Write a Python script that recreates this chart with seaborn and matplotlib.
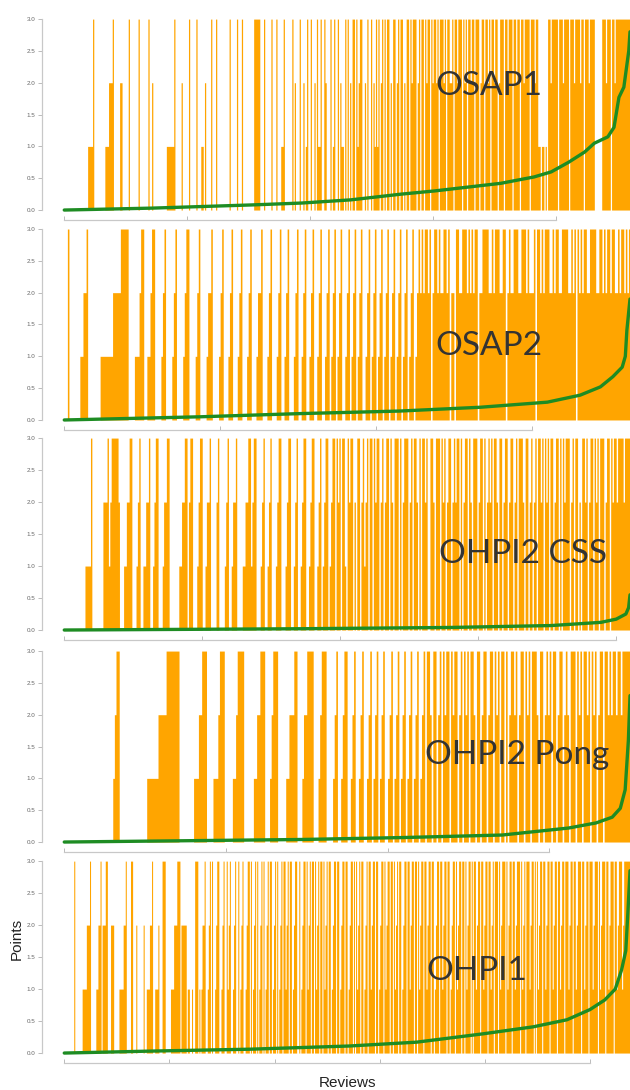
import numpy as np
import matplotlib
matplotlib.use("Agg")
import matplotlib.pyplot as plt
import seaborn as sns
from matplotlib.ticker import MultipleLocator

# points per review (0-3), one digit per review, in blocks of ten
osap1_points = """
0000000000 0000000001 1113000000 0001112223 0000022000 0030000000 3000000030 0200000000
0001111113 0000020000 0300000300 0110200003 0003000000 0000300000 3000300000 0000333330
0030000030 0030001130 0000030200 0300201300 3002031130 0320003013 0030211030 3020330312
3300203003 0213130230 3033020330 2303302033 0323330230 3303233032 3323033323 0332230332
3330323033 2330333023 3033230332 3302333033 2333033233 0332333303 3323311011 0103323333
3033323333 0333233332 3303332333 3000000333 2333033233 3333333333
"""
osap2_points = """
0030000000 1122300000 0001111111 1222223333 3000011123 3001123300 0012300001 2300001233
0000123000 0122300001 2300012300 0123000123 0001223000 1230001230 0123000123 0012300123
0012300123 0123012300 1230123012 3001230123 0123012301 2301230123 0123012323 2332302332
3223323022 0332233323 2323302233 3322323332 2330232233 3223332322 2303323233 3223233223
3332232303 2323322333 3223323233 2332232332 323
"""
ohpi2_css_points = """
0000000000 0000011113 0000000022 2312333332 0001122330 0012300112 2300123300 0122330000
0001122330 2330001233 0012230000 2300001230 0122300001 1223312330 0012300123 0001233000
1233001230 0123300123 3001230123 3012330323 0331032330 2033023123 0330323302 3023303203
3303023330 2303320303 3230033203 3303230233 0232330302 3303203330 2330302323 0332033023
3023302303 3320330230 2303323032 3033023303 0323330230 3302033230 2330323033 3023303233
2333323333
"""
ohpi2_pong_points = """
0000000000 0000000000 0000000000 1233000000 0000000000 0111111122 2223333333 3000000000
1112233300 0011123330 0000112333 3000000112 2333000123 3300000112 2233000122 3333000123
3300001230 0123300123 0012300123 0123012300 1230123012 3012301230 1230332033 0230323303
2330230323 0332033023 3023303230 3303023323 0233032303 3320330232 3033023302 3203330323
0332303230 2330332323 3233233333
"""
ohpi1_points = """
0000000003 0000000111 1222300000 1122302223 3000222000 0011112230 0003300020 0000020011
1223001112 0003330000 0111222333 0222220110 0100333010 1223001230 3001233001 2300312300
1230030123 0012330301 2303012303 0123033012 3030123033 1230330123 3003012330 3123033031
2303303123 0330123303 3012330330 1233030312 3033012303 3123303301 2330312330 3303123033
0123303312 3303303123 3033123303 3012330331 2330330123 3031233033 0312330303 3123303312
3303312303 3303123330 3123303312 3330312303 3312330303 1233033123 3033123303 3123303331
2330331233 3033123303 3312333031 2333033123 3303312333 12333333
"""

# green curve: review index and value
osap1_curve_idx = [0, 71, 152, 193, 233, 274, 301, 328, 355, 382, 396, 410, 423, 431, 442, 447, 451, 455, 459, 460]
osap1_curve_val = [0.0, 0.03, 0.08, 0.11, 0.16, 0.25, 0.30, 0.36, 0.42, 0.52, 0.60, 0.75, 0.91, 1.05, 1.15, 1.30, 1.77, 1.93, 2.50, 2.80]
osap2_curve_idx = [0, 87, 151, 215, 267, 310, 331, 344, 352, 358, 360, 361, 363]
osap2_curve_val = [0.0, 0.05, 0.10, 0.14, 0.20, 0.28, 0.39, 0.52, 0.68, 0.83, 1.00, 1.41, 1.90]
ohpi2_css_curve_idx = [0, 171, 280, 353, 389, 400, 407, 409, 410]
ohpi2_css_curve_val = [0.0, 0.02, 0.04, 0.07, 0.12, 0.17, 0.25, 0.35, 0.55]
ohpi2_pong_curve_idx = [0, 147, 209, 271, 312, 329, 339, 344, 347, 349, 350]
ohpi2_pong_curve_val = [0.0, 0.04, 0.07, 0.11, 0.22, 0.30, 0.39, 0.53, 0.82, 1.60, 2.30]
ohpi1_curve_idx = [0, 81, 176, 271, 335, 398, 446, 478, 500, 514, 524, 530, 534, 536, 538]
ohpi1_curve_val = [0.0, 0.03, 0.06, 0.11, 0.17, 0.30, 0.41, 0.52, 0.68, 0.83, 1.00, 1.30, 1.60, 2.20, 2.85]

names = ["OSAP1", "OSAP2", "OHPI2 CSS", "OHPI2 Pong", "OHPI1"]
points = [osap1_points, osap2_points, ohpi2_css_points, ohpi2_pong_points, ohpi1_points]
curve_idx = [osap1_curve_idx, osap2_curve_idx, ohpi2_css_curve_idx, ohpi2_pong_curve_idx, ohpi1_curve_idx]
curve_val = [osap1_curve_val, osap2_curve_val, ohpi2_css_curve_val, ohpi2_pong_curve_val, ohpi1_curve_val]


def parse(s):
    return np.array([int(c) for c in "".join(s.split())], dtype=float)


sns.set_theme(style="ticks")
plt.rcParams["font.family"] = ["Liberation Sans", "DejaVu Sans"]
# keep every thin spike, no path simplification
plt.rcParams["path.simplify"] = False

fig = plt.figure(figsize=(6.3, 10.9), dpi=100)

# axes boxes (left, bottom, width, height) and label anchors
boxes = [
    (0.102, 0.8073, 0.898, 0.1752),
    (0.102, 0.6147, 0.898, 0.1752),
    (0.102, 0.4220, 0.898, 0.1761),
    (0.102, 0.2275, 0.898, 0.1752),
    (0.102, 0.0339, 0.898, 0.1761),
]
label_pos = [(0.75, 0.60), (0.75, 0.34), (0.81, 0.35), (0.80, 0.41), (0.73, 0.38)]

for k in range(5):
    ax = fig.add_axes(boxes[k])
    vals = parse(points[k])
    n = len(vals)
    idx = np.arange(n) + 0.5
    sns.histplot(x=idx, weights=vals, discrete=True, element="step", fill=True,
                 color="#FFA500", alpha=1, linewidth=0, ax=ax)
    sns.lineplot(x=curve_idx[k], y=curve_val[k], color="#1e8c23", linewidth=2.4, ax=ax)
    ax.lines[-1].set_clip_on(False)

    ax.set_xlim(0, n)
    ax.set_ylim(0, 3)
    ax.set_yticks(np.arange(0, 3.01, 0.5))
    ax.set_yticklabels([f"{t:.1f}" for t in np.arange(0, 3.01, 0.5)])
    ax.xaxis.set_major_locator(MultipleLocator(100))
    ax.set_xticklabels([])
    ax.tick_params(axis="y", labelsize=4.5, labelcolor="#666666", length=3, width=0.7,
                   color="#bbbbbb", pad=2)
    ax.tick_params(axis="x", direction="in", length=3, width=0.7, color="#bbbbbb")
    for sp in ax.spines.values():
        sp.set_color("#c8c8c8")
        sp.set_linewidth(0.9)
    sns.despine(ax=ax, offset={"left": 16, "bottom": 7}, trim=True)

    ax.text(label_pos[k][0], label_pos[k][1], names[k], transform=ax.transAxes,
            fontsize=24, family=["Lato", "DejaVu Sans"], fontweight="normal",
            color="#333333", ha="center", va="baseline")

    if k == 4:
        ax.set_xlabel("Reviews", fontsize=11, color="#222222", labelpad=6)
        ax.set_ylabel("Points", fontsize=11, color="#222222")
        ax.yaxis.set_label_coords(-0.072, 0.594)
    else:
        ax.set_xlabel("")
        ax.set_ylabel("")

fig.savefig("out.png", dpi=100)
